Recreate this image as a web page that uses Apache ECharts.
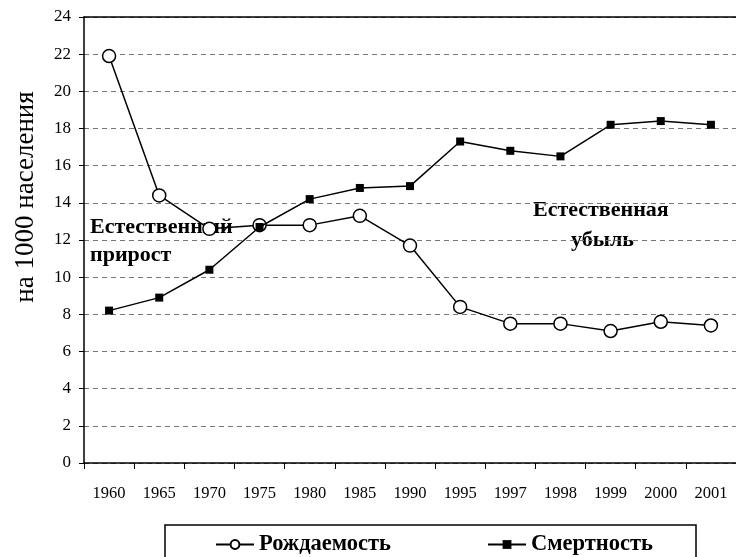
<!DOCTYPE html>
<html style="height: 100%">
<head>
    <meta charset="utf-8">
    <script src="https://cdn.jsdelivr.net/npm/echarts@6/dist/echarts.min.js"></script>
</head>
<body style="height: 100%; margin: 0; background: #fff">
<div id="container" style="width: 736px; height: 557px"></div>
<script type="text/javascript">
    // годы и показатели на 1000 населения
    var years = ['1960', '1965', '1970', '1975', '1980', '1985', '1990', '1995', '1997', '1998', '1999', '2000', '2001'];
    var birthRate = [21.9, 14.4, 12.6, 12.8, 12.8, 13.3, 11.7, 8.4, 7.5, 7.5, 7.1, 7.6, 7.4];
    var deathRate = [8.2, 8.9, 10.4, 12.7, 14.2, 14.8, 14.9, 17.3, 16.8, 16.5, 18.2, 18.4, 18.2];
    var yTicks = [0, 2, 4, 6, 8, 10, 12, 14, 16, 18, 20, 22, 24];

    var font = '"Liberation Serif", "DejaVu Serif", serif';
    var myChart = echarts.init(document.getElementById('container'));

    var option = {
        backgroundColor: '#fff',
        textStyle: {fontFamily: font, color: '#000'},
        grid: {left: 84, right: 0, top: 17, bottom: 94},
        legend: {
            data: ['Рождаемость', 'Смертность'],
            left: 165,
            top: 525,
            padding: [8, 43, 30, 50],
            itemGap: 96,
            itemWidth: 38,
            itemHeight: 11,
            borderColor: '#000',
            borderWidth: 1.5,
            textStyle: {fontFamily: font, fontSize: 22.5, fontWeight: 'bold', color: '#000'}
        },
        xAxis: [{
            type: 'category',
            data: years,
            boundaryGap: true,
            axisLine: {lineStyle: {color: '#000', width: 1.5}},
            axisTick: {show: true, length: 6, lineStyle: {color: '#000'}},
            axisLabel: {fontFamily: font, fontSize: 16.5, color: '#000', margin: 22}
        }, {
            type: 'category',
            data: years,
            position: 'top',
            axisLine: {lineStyle: {color: '#000', width: 1.5}},
            axisTick: {show: false},
            axisLabel: {show: false}
        }],
        yAxis: {
            type: 'value',
            min: yTicks[0],
            max: yTicks[yTicks.length - 1],
            interval: 2,
            name: 'на 1000 населения',
            nameLocation: 'middle',
            nameGap: 45,
            nameTextStyle: {fontFamily: font, fontSize: 27, color: '#000', padding: [0, 0, 0, 86]},
            axisLine: {show: true, lineStyle: {color: '#000', width: 1.5}},
            axisTick: {show: true, length: 5, lineStyle: {color: '#000'}},
            axisLabel: {fontFamily: font, fontSize: 17, color: '#000', margin: 13},
            splitLine: {show: true, lineStyle: {color: '#777', type: [5, 4], width: 1}}
        },
        graphic: [
            {type: 'text', left: 90, top: 216, style: {text: 'Естественный', font: 'bold 22px ' + font, fill: '#000'}},
            {type: 'text', left: 90, top: 244, style: {text: 'прирост', font: 'bold 22px ' + font, fill: '#000'}},
            {type: 'text', left: 533, top: 199, style: {text: 'Естественная', font: 'bold 22px ' + font, fill: '#000'}},
            {type: 'text', left: 571, top: 229, style: {text: 'убыль', font: 'bold 22px ' + font, fill: '#000'}}
        ],
        series: [
            {
                name: 'Рождаемость',
                type: 'line',
                data: birthRate,
                symbol: 'circle',
                symbolSize: 13,
                z: 3,
                lineStyle: {color: '#000', width: 1.5},
                itemStyle: {color: '#fff', borderColor: '#000', borderWidth: 1.5}
            },
            {
                name: 'Смертность',
                type: 'line',
                data: deathRate,
                symbol: 'rect',
                symbolSize: 8,
                z: 4,
                lineStyle: {color: '#000', width: 1.5},
                itemStyle: {color: '#000'}
            }
        ]
    };

    myChart.setOption(option, true);
</script>
</body>
</html>
